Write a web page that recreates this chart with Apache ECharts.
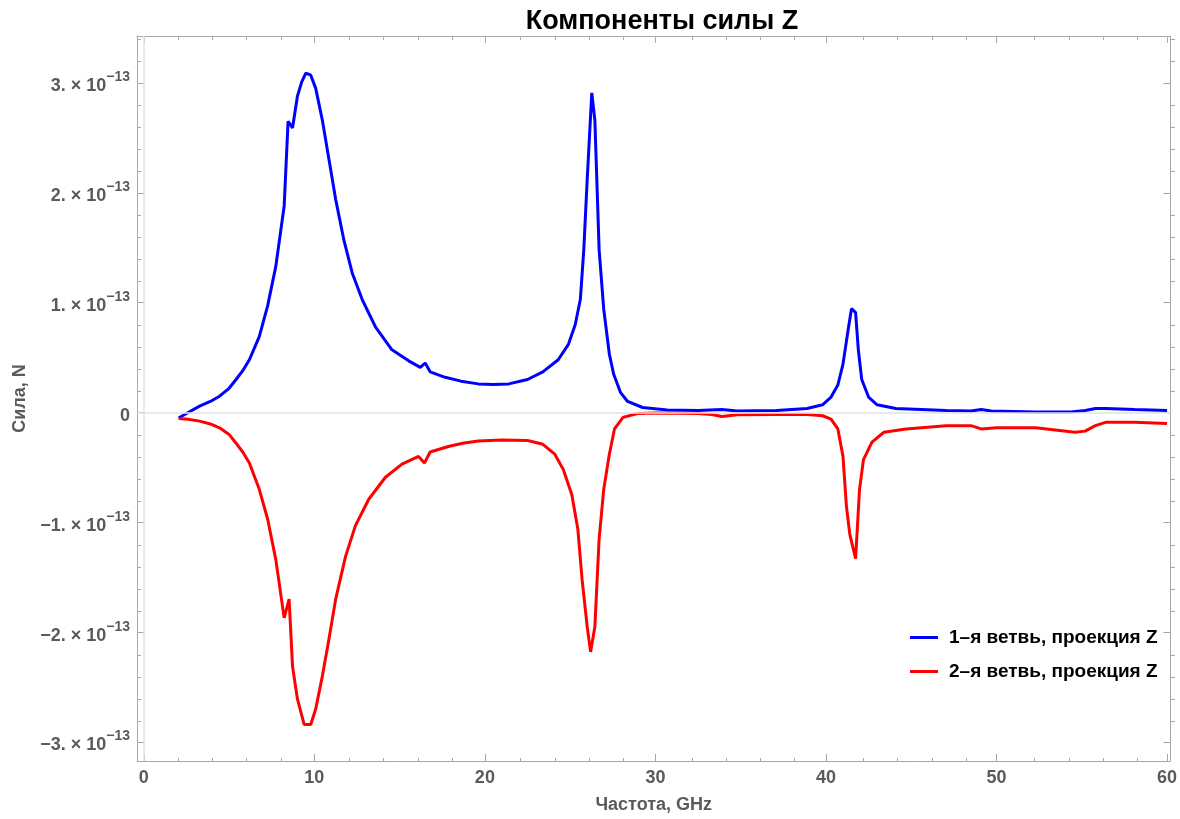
<!DOCTYPE html>
<html>
<head>
<meta charset="utf-8">
<script src="https://cdn.jsdelivr.net/npm/echarts@6/dist/echarts.min.js"></script>
<style>
html,body{margin:0;padding:0;background:#fff;}
#chart{width:1180px;height:819px;}
</style>
</head>
<body>
<div id="chart"></div>
<script>
// Frequency in GHz, force in units of 1e-13 N
const branch1Freq = [2.04,2.6,3.27,3.9,4.44,5.0,5.41,5.8,6.19,6.77,7.26,7.74,8.23,8.46,8.72,9.01,9.26,9.50,9.79,10.08,10.47,10.86,11.25,11.73,12.22,12.80,13.58,14.55,15.53,16.21,16.50,16.79,17.67,18.6,19.61,20.5,21.4,22.5,23.4,24.3,24.9,25.3,25.6,25.8,26.0,26.27,26.45,26.7,26.97,27.3,27.55,27.96,28.37,29.25,30.7,32.5,33.9,34.8,37.1,38.9,39.8,40.3,40.7,41.0,41.3,41.5,41.74,41.9,42.1,42.5,43.0,44.1,47.05,48.5,49.1,49.7,52.3,54.35,55.2,55.8,56.4,58.1,60];
const branch1Force = [-0.05,0.0,0.057,0.10,0.148,0.22,0.30,0.38,0.48,0.69,0.97,1.33,1.88,2.65,2.59,2.88,3.01,3.09,3.07,2.95,2.66,2.30,1.94,1.57,1.27,1.03,0.78,0.57,0.47,0.41,0.45,0.37,0.32,0.285,0.26,0.255,0.26,0.30,0.37,0.48,0.62,0.80,1.03,1.48,2.12,2.91,2.66,1.48,0.94,0.53,0.35,0.18,0.10,0.045,0.023,0.018,0.027,0.014,0.018,0.036,0.07,0.14,0.25,0.44,0.75,0.945,0.91,0.57,0.30,0.14,0.07,0.036,0.018,0.014,0.027,0.014,0.005,0.005,0.018,0.036,0.036,0.027,0.018];
const branch2Freq = [2.04,2.6,3.27,3.9,4.44,5.0,5.41,5.8,6.19,6.77,7.26,7.74,8.23,8.52,8.72,9.01,9.40,9.79,10.08,10.47,10.86,11.25,11.83,12.41,13.19,14.17,15.14,16.11,16.46,16.79,17.86,18.7,19.61,21.0,22.5,23.4,24.1,24.6,25.1,25.45,25.7,26.0,26.2,26.45,26.7,26.97,27.3,27.6,28.1,28.95,30.1,32.5,33.3,33.9,34.8,37.1,38.9,39.8,40.3,40.7,41.0,41.2,41.4,41.74,41.97,42.2,42.7,43.4,44.7,47.05,48.5,49.1,50.0,52.3,54.6,55.2,55.8,56.4,58.1,60];
const branch2Force = [-0.055,-0.062,-0.079,-0.105,-0.14,-0.20,-0.28,-0.36,-0.46,-0.70,-0.97,-1.34,-1.87,-1.70,-2.31,-2.61,-2.84,-2.84,-2.70,-2.40,-2.06,-1.70,-1.31,-1.03,-0.79,-0.59,-0.47,-0.40,-0.46,-0.36,-0.31,-0.28,-0.26,-0.25,-0.255,-0.29,-0.38,-0.52,-0.75,-1.06,-1.52,-1.95,-2.18,-1.95,-1.15,-0.70,-0.38,-0.15,-0.045,-0.009,-0.005,-0.01,-0.018,-0.036,-0.02,-0.018,-0.018,-0.03,-0.06,-0.15,-0.40,-0.85,-1.11,-1.33,-0.70,-0.43,-0.27,-0.18,-0.15,-0.12,-0.12,-0.15,-0.14,-0.14,-0.18,-0.17,-0.12,-0.09,-0.09,-0.10];
const seriesNames = ['1–я ветвь, проекция Z', '2–я ветвь, проекция Z'];
const xMajorTicks = [0,10,20,30,40,50,60];
const xMinorTicks = [2,4,6,8,12,14,16,18,22,24,26,28,32,34,36,38,42,44,46,48,52,54,56,58];
const yMajorTicks = [-3,-2,-1,0,1,2,3];
const yMinorTicks = [-2.8,-2.6,-2.4,-2.2,-1.8,-1.6,-1.4,-1.2,-0.8,-0.6,-0.4,-0.2,0.2,0.4,0.6,0.8,1.2,1.4,1.6,1.8,2.2,2.4,2.6,2.8,3.2,3.4];
const yExponent = '−13';

const FONT = 'Liberation Sans, Arial, sans-serif';
const FRAME = '#a8a8a8';
const LABEL = '#5a5a5a';
const X_MIN = -0.4, X_MAX = 60.2, Y_MIN = -3.173, Y_MAX = 3.427;

function zip(a, b) { return a.map((v, i) => [v, b[i]]); }

const gridBox = {left: 137, right: 5, top: 36, bottom: 57, containLabel: false};

function xAxisDef(gridIndex, position, ticks, len, withLabels, withLine) {
  return {
    type: 'value', gridIndex, position, min: X_MIN, max: X_MAX,
    axisLine: {show: withLine, onZero: false, lineStyle: {color: FRAME, width: 1}},
    axisTick: {show: true, inside: true, length: len, customValues: ticks, lineStyle: {color: FRAME, width: 1}},
    axisLabel: withLabels ? {show: true, customValues: ticks, color: LABEL, fontSize: 18, fontWeight: 'bold', fontFamily: FONT, margin: 8} : {show: false},
    splitLine: {show: false}
  };
}
function yAxisDef(gridIndex, position, ticks, len, withLabels, withLine) {
  return {
    type: 'value', gridIndex, position, min: Y_MIN, max: Y_MAX,
    axisLine: {show: withLine, onZero: false, lineStyle: {color: FRAME, width: 1}},
    axisTick: {show: true, inside: true, length: len, customValues: ticks, lineStyle: {color: FRAME, width: 1}},
    axisLabel: withLabels ? {
      show: true, customValues: ticks, margin: 7,
      formatter: function (v) {
        if (Math.abs(v) < 1e-9) return '{m|0}';
        const sgn = v < 0 ? '−' : '';
        return '{m|' + sgn + Math.round(Math.abs(v)) + '. × 10}{e|' + yExponent + '}';
      },
      rich: {
        m: {fontSize: 18, fontWeight: 'bold', color: LABEL, fontFamily: FONT, lineHeight: 25, verticalAlign: 'bottom'},
        e: {fontSize: 14, fontWeight: 'bold', color: LABEL, fontFamily: FONT, lineHeight: 15, verticalAlign: 'top'}
      }
    } : {show: false},
    splitLine: {show: false}
  };
}

const xAxes = [
  xAxisDef(0, 'bottom', xMajorTicks, 7, true, true),
  xAxisDef(0, 'top', xMajorTicks, 7, false, true),
  xAxisDef(1, 'bottom', xMinorTicks, 4, false, false),
  xAxisDef(1, 'top', xMinorTicks, 4, false, false)
];
xAxes[0].name = 'Частота, GHz';
xAxes[0].nameLocation = 'middle';
xAxes[0].nameGap = 35;
xAxes[0].nameTextStyle = {color: LABEL, fontSize: 18, fontWeight: 'bold', fontFamily: FONT};

const yAxes = [
  yAxisDef(0, 'left', yMajorTicks, 7, true, true),
  yAxisDef(0, 'right', yMajorTicks, 7, false, true),
  yAxisDef(1, 'left', yMinorTicks, 4, false, false),
  yAxisDef(1, 'right', yMinorTicks, 4, false, false)
];
yAxes[0].name = 'Сила, N';
yAxes[0].nameLocation = 'middle';
yAxes[0].nameRotate = 90;
yAxes[0].nameGap = 105;
yAxes[0].nameTextStyle = {color: LABEL, fontSize: 18, fontWeight: 'bold', fontFamily: FONT};

const chart = echarts.init(document.getElementById('chart'), null, {renderer: 'canvas'});
chart.setOption({
  animation: false,
  backgroundColor: '#fff',
  title: {
    text: 'Компоненты силы Z', left: 657, top: 3, textAlign: 'center',
    textStyle: {fontSize: 27, fontWeight: 'bold', color: '#000', fontFamily: FONT}
  },
  legend: {
    orient: 'vertical', left: 905, top: 623, itemGap: 15,
    itemWidth: 28, itemHeight: 3, icon: 'rect',
    textStyle: {fontSize: 19, fontWeight: 'bold', color: '#000', fontFamily: FONT, padding: [0, 0, 0, 6]},
    data: seriesNames
  },
  grid: [Object.assign({}, gridBox), Object.assign({}, gridBox)],
  xAxis: xAxes,
  yAxis: yAxes,
  series: [
    {
      name: seriesNames[0], type: 'line', xAxisIndex: 0, yAxisIndex: 0,
      data: zip(branch1Freq, branch1Force), symbol: 'none', smooth: false,
      lineStyle: {color: '#0000ff', width: 3}, itemStyle: {color: '#0000ff'}, z: 3,
      markLine: {
        silent: true, symbol: 'none', label: {show: false},
        lineStyle: {color: '#e2e2e2', width: 1.5, type: 'solid'},
        emphasis: {disabled: true},
        data: [{yAxis: 0}, {xAxis: 0}]
      }
    },
    {
      name: seriesNames[1], type: 'line', xAxisIndex: 0, yAxisIndex: 0,
      data: zip(branch2Freq, branch2Force), symbol: 'none', smooth: false,
      lineStyle: {color: '#ff0000', width: 3}, itemStyle: {color: '#ff0000'}, z: 3
    }
  ]
});
</script>
</body>
</html>
